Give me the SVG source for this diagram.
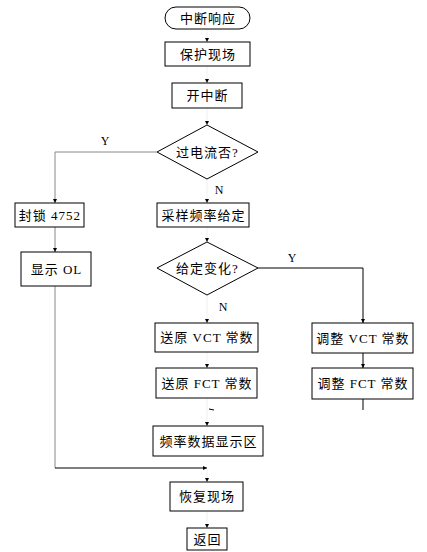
<svg xmlns="http://www.w3.org/2000/svg" width="427" height="552" viewBox="0 0 427 552">
<style>
.box{fill:#fff;stroke:#000;stroke-width:1}
.t{font-family:"Liberation Serif","Noto Sans CJK SC",serif;font-size:13px;fill:#000;text-anchor:middle;dominant-baseline:central;letter-spacing:1px}
.l{font-family:"Liberation Serif","Noto Sans CJK SC",serif;font-size:12px;fill:#000;text-anchor:middle;dominant-baseline:central}
.c{fill:none;stroke:#000;stroke-width:1}
.g{stroke:#888}
.f{stroke:#e6e6e6;stroke-width:0.6}
</style>
<defs>
<marker id="a" markerUnits="userSpaceOnUse" markerWidth="6" markerHeight="6" refX="4" refY="2.5" orient="auto">
<path d="M0,0.5 L4,2.5 L0,4.5 Z" fill="#000"/>
</marker>
</defs>
<rect width="427" height="552" fill="#fff"/>
<g id="connectors">
<line class="c f" x1="207" y1="29" x2="207" y2="42" marker-end="url(#a)"/>
<line class="c f" x1="207" y1="66" x2="207" y2="83" marker-end="url(#a)"/>
<line class="c f" x1="207" y1="108" x2="207" y2="125" marker-end="url(#a)"/>
<polyline class="c g" points="157,152 55,152 55,203" marker-end="url(#a)"/>
<line class="c f" x1="207" y1="179" x2="207" y2="203" marker-end="url(#a)"/>
<line class="c g" x1="55" y1="227" x2="55" y2="252" marker-end="url(#a)"/>
<line class="c f" x1="207" y1="227" x2="207" y2="242" marker-end="url(#a)"/>
<polyline class="c" points="258,268 363,268 363,323" marker-end="url(#a)"/>
<line class="c f" x1="207" y1="295" x2="207" y2="323" marker-end="url(#a)"/>
<line class="c f" x1="207" y1="352" x2="207" y2="368" marker-end="url(#a)"/>
<line class="c" x1="363" y1="353" x2="363" y2="368" marker-end="url(#a)"/>
<line class="c" x1="363" y1="399" x2="363" y2="410"/>
<line class="c f" x1="207" y1="398" x2="207" y2="426" marker-end="url(#a)"/>
<line class="c" x1="209" y1="409" x2="214" y2="410"/>
<line class="c g" x1="55" y1="286" x2="55" y2="468"/>
<line class="c" x1="55" y1="468" x2="207" y2="468" marker-end="url(#a)"/>
<line class="c f" x1="207" y1="468" x2="207" y2="482" marker-end="url(#a)"/>
<line class="c f" x1="207" y1="511" x2="207" y2="528" marker-end="url(#a)"/>
<text class="l" x="105" y="141">Y</text>
<text class="l" x="219" y="190">N</text>
<text class="l" x="292" y="258">Y</text>
<text class="l" x="223" y="307">N</text>
</g>
<g id="n1"><rect class="box" x="165" y="7" width="85" height="22" rx="11"/><text class="t" x="208" y="18">中断响应</text></g>
<g id="n2"><rect class="box" x="165" y="42" width="85" height="24"/><text class="t" x="208" y="54">保护现场</text></g>
<g id="n3"><rect class="box" x="172" y="83" width="70" height="25"/><text class="t" x="207.5" y="95.5">开中断</text></g>
<g id="n4"><polygon class="box" points="157,152 207,125 258,152 207,179"/><text class="t" x="207.5" y="152">过电流否?</text></g>
<g id="n5"><rect class="box" x="157" y="203" width="92" height="24"/><text class="t" x="203.5" y="215">采样频率给定</text></g>
<g id="n6"><rect class="box" x="15" y="203" width="69" height="24"/><text class="t" x="50" y="215">封锁 4752</text></g>
<g id="n7"><rect class="box" x="21" y="252" width="70" height="34"/><text class="t" x="56.5" y="269">显示 OL</text></g>
<g id="n8"><polygon class="box" points="157,268 207,242 258,268 207,295"/><text class="t" x="207.5" y="268">给定变化?</text></g>
<g id="n9"><rect class="box" x="155" y="323" width="103" height="29"/><text class="t" x="207" y="337.5">送原 VCT 常数</text></g>
<g id="n10"><rect class="box" x="156" y="368" width="101" height="30"/><text class="t" x="207" y="383">送原 FCT 常数</text></g>
<g id="n11"><rect class="box" x="153" y="426" width="110" height="30"/><text class="t" x="208.5" y="441">频率数据显示区</text></g>
<g id="n12"><rect class="box" x="312" y="323" width="101" height="30"/><text class="t" x="363" y="338">调整 VCT 常数</text></g>
<g id="n13"><rect class="box" x="312" y="368" width="101" height="31"/><text class="t" x="363" y="383.5">调整 FCT 常数</text></g>
<g id="n14"><rect class="box" x="170" y="482" width="73" height="29"/><text class="t" x="207" y="496.5">恢复现场</text></g>
<g id="n15"><rect class="box" x="187" y="528" width="40" height="22"/><text class="t" x="207.5" y="539">返回</text></g>
</svg>
